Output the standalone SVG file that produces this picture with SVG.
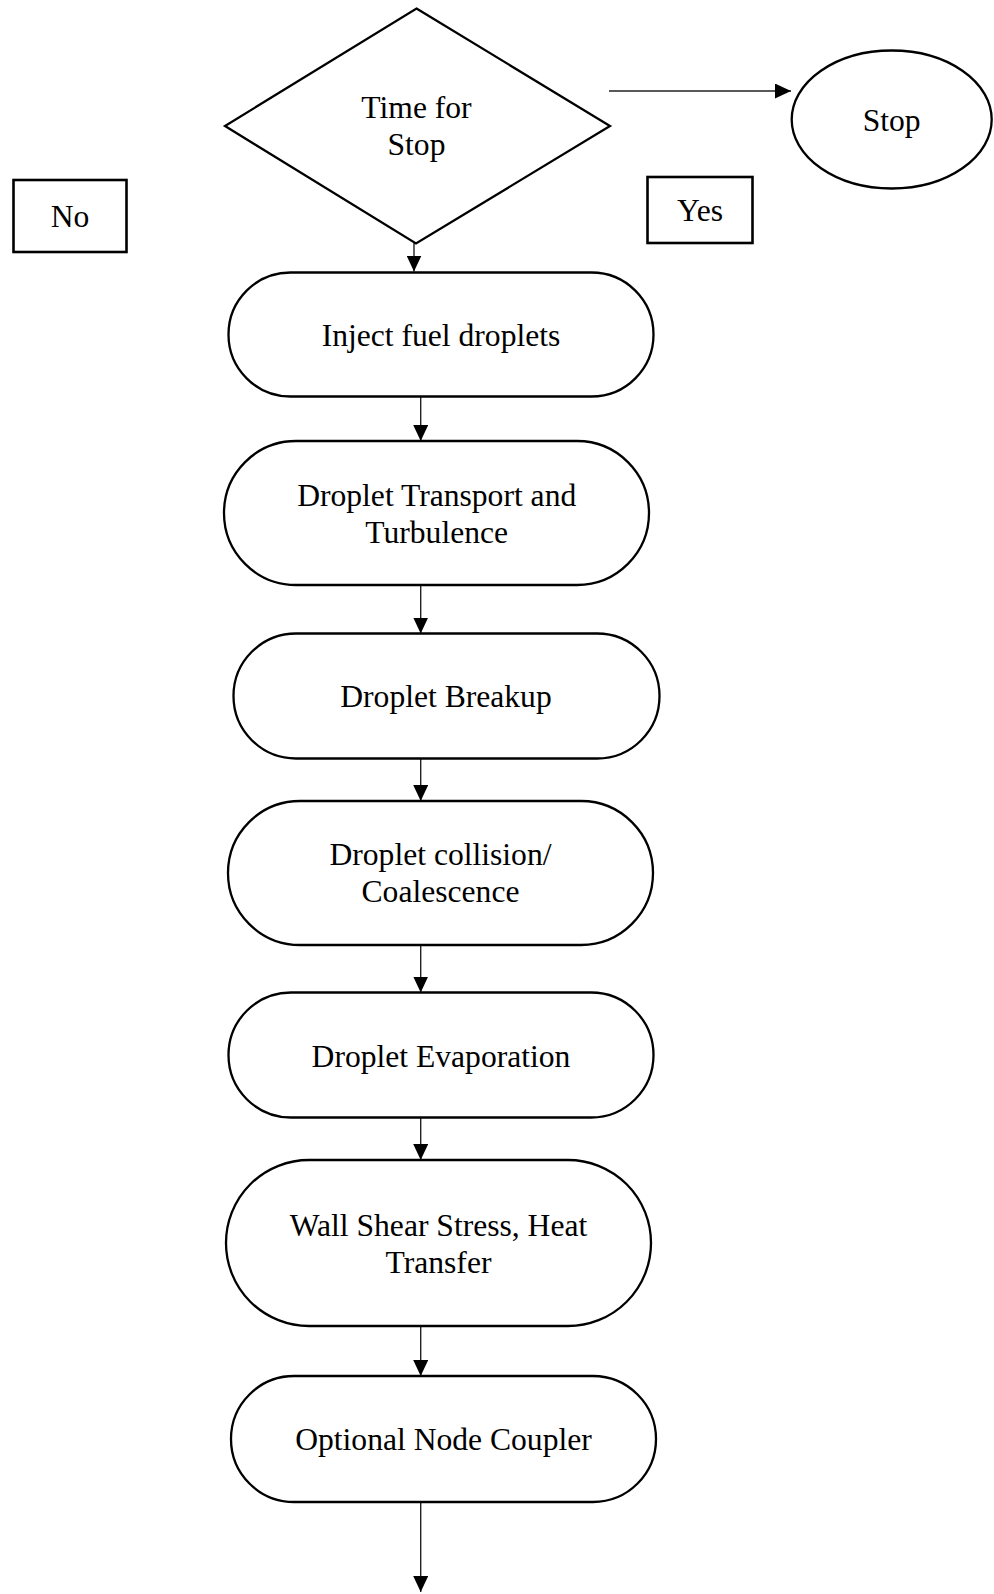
<svg xmlns="http://www.w3.org/2000/svg" width="994" height="1594" viewBox="0 0 994 1594">
<style>
.shape{fill:#fff;stroke:#000;stroke-width:2.3}
.box{fill:#fff;stroke:#000;stroke-width:2.6}
.lbl{font-family:"Liberation Serif","Times New Roman",serif;font-size:31.6px;fill:#000;text-anchor:middle}
.conn{stroke:#222;stroke-width:1.4;fill:none}
</style>
<defs>
<marker id="arr" markerUnits="userSpaceOnUse" markerWidth="16" markerHeight="15" refX="16" refY="7.5" orient="auto">
<path d="M0,0 L16,7.5 L0,15 z" fill="#000"/>
</marker>
</defs>
<rect width="994" height="1594" fill="#fff"/>
<g id="connectors">
<line class="conn" x1="414" y1="212" x2="414" y2="271.5" marker-end="url(#arr)"/>
<line class="conn" x1="609" y1="91" x2="791" y2="91" marker-end="url(#arr)"/>
<line class="conn" x1="420.7" y1="396.5" x2="420.7" y2="441" marker-end="url(#arr)"/>
<line class="conn" x1="420.7" y1="585" x2="420.7" y2="633.5" marker-end="url(#arr)"/>
<line class="conn" x1="420.7" y1="758.5" x2="420.7" y2="801" marker-end="url(#arr)"/>
<line class="conn" x1="420.7" y1="945" x2="420.7" y2="992.5" marker-end="url(#arr)"/>
<line class="conn" x1="420.7" y1="1117.5" x2="420.7" y2="1160" marker-end="url(#arr)"/>
<line class="conn" x1="420.7" y1="1326" x2="420.7" y2="1376" marker-end="url(#arr)"/>
<line class="conn" x1="420.7" y1="1502" x2="420.7" y2="1592" marker-end="url(#arr)"/>
</g>
<g id="decision">
<polygon class="shape" points="416.5,8.5 610,126 416,243.5 225,126"/>
<text class="lbl" x="416.5" y="118">Time for</text>
<text class="lbl" x="416.5" y="155">Stop</text>
</g>
<g id="stop">
<ellipse class="shape" cx="891.7" cy="119.5" rx="100" ry="69"/>
<text class="lbl" x="891.7" y="131">Stop</text>
</g>
<g id="no">
<rect class="box" x="13.5" y="180" width="113" height="72"/>
<text class="lbl" x="70" y="227">No</text>
</g>
<g id="yes">
<rect class="box" x="647.5" y="177" width="105" height="66"/>
<text class="lbl" x="700" y="221">Yes</text>
</g>
<g id="inject">
<rect class="shape" x="228.5" y="272.5" width="425" height="124" rx="62" ry="62"/>
<text class="lbl" x="441" y="346">Inject fuel droplets</text>
</g>
<g id="transport">
<rect class="shape" x="224" y="441" width="425" height="144" rx="72" ry="72"/>
<text class="lbl" x="436.7" y="506">Droplet Transport and</text>
<text class="lbl" x="436.7" y="542.7">Turbulence</text>
</g>
<g id="breakup">
<rect class="shape" x="233.5" y="633.5" width="426" height="125" rx="62.5" ry="62.5"/>
<text class="lbl" x="446" y="706.7">Droplet Breakup</text>
</g>
<g id="collision">
<rect class="shape" x="228" y="801" width="425" height="144" rx="72" ry="72"/>
<text class="lbl" x="440.5" y="865">Droplet collision/</text>
<text class="lbl" x="440.5" y="901.7">Coalescence</text>
</g>
<g id="evaporation">
<rect class="shape" x="228.5" y="992.5" width="425" height="125" rx="62.5" ry="62.5"/>
<text class="lbl" x="441" y="1066.7">Droplet Evaporation</text>
</g>
<g id="wall">
<rect class="shape" x="226" y="1160" width="425" height="166" rx="83" ry="83"/>
<text class="lbl" x="438.5" y="1236">Wall Shear Stress, Heat</text>
<text class="lbl" x="438.5" y="1273.3">Transfer</text>
</g>
<g id="coupler">
<rect class="shape" x="231" y="1376" width="425" height="126" rx="63" ry="63"/>
<text class="lbl" x="443.5" y="1450">Optional Node Coupler</text>
</g>
</svg>
